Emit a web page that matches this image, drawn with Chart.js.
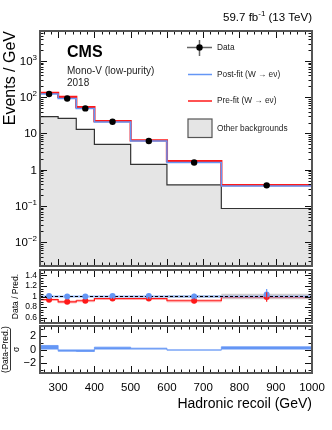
<!DOCTYPE html>
<html>
<head>
<meta charset="utf-8">
<script src="https://cdn.jsdelivr.net/npm/chart.js@4.4.1/dist/chart.umd.min.js"></script>
<style>
  html, body { margin: 0; padding: 0; background: #fff; }
  #wrap { position: relative; width: 332px; height: 430px; }
  canvas { position: absolute; left: 0; top: 0; }
</style>
</head>
<body>
<div id="wrap">
  <canvas id="mainChart" width="332" height="430"></canvas>
  <canvas id="ratioChart" width="332" height="430"></canvas>
  <canvas id="pullChart" width="332" height="430"></canvas>
</div>
<script>
const FONT = '"Liberation Sans", Arial, Helvetica, sans-serif';

// Binning (GeV)
const binEdges = [250, 300, 350, 400, 500, 600, 750, 1000];
const binCenters = [275, 325, 375, 450, 550, 675, 875];

// Main panel, Events / GeV
const dataValues = [123, 92, 49, 21, 6.2, 1.58, 0.37];
const postFit = [122, 92, 49, 20.8, 6.15, 1.58, 0.356];
const preFit = [131, 102, 53, 21.9, 6.45, 1.72, 0.374];
const otherBkg = [29, 26, 13, 5.0, 1.4, 0.38, 0.085];

// Ratio panel, Data / Pred.
const ratioPost = [1.01, 1.0, 1.0, 1.01, 1.01, 1.0, 1.04];
const ratioPostErr = [0.012, 0.012, 0.015, 0.016, 0.025, 0.05, 0.1];
const ratioPre = [0.94, 0.90, 0.92, 0.96, 0.96, 0.92, 0.99];
const ratioPreErr = [0.012, 0.012, 0.015, 0.016, 0.025, 0.045, 0.09];
const postUnc = [0.008, 0.008, 0.008, 0.01, 0.012, 0.03, 0.05];
const preUnc = [0.02, 0.03, 0.03, 0.02, 0.02, 0.035, 0.03];

// Pull panel, (Data-Pred.)/sigma
const pullValues = [0.6, -0.25, -0.3, 0.35, 0.2, -0.1, 0.4];

// Tick labels
const xTickValues = [300, 400, 500, 600, 700, 800, 900, 1000];
const logTickValues = [0.01, 0.1, 1, 10, 100, 1000];
const logTickBases = ["10", "10", "1", "10", "10", "10"];
const logTickExps = ["\u22122", "\u22121", "", "", "2", "3"];
const ratioTickValues = [0.6, 0.8, 1, 1.2, 1.4];
const ratioTickLabels = ["0.6", "0.8", "1", "1.2", "1.4"];
const pullTickValues = [-2, 0, 2];
const pullTickLabels = ["\u22122", "0", "2"];

const BLUE = "rgb(100, 150, 245)";
const RED = "rgb(255, 25, 25)";

// histogram outline: one point per lower edge plus the last upper edge
function steps(vals) {
  const pts = vals.map((v, i) => ({ x: binEdges[i], y: v }));
  pts.push({ x: binEdges[binEdges.length - 1], y: vals[vals.length - 1] });
  return pts;
}
function points(vals) {
  return vals.map((v, i) => ({ x: binCenters[i], y: v }));
}

function baseOptions(top, bottom, yScale) {
  return {
    responsive: false,
    animation: false,
    events: [],
    layout: { padding: { left: 40, right: 20, top: top, bottom: bottom } },
    scales: {
      x: { type: "linear", min: 250, max: 1000, display: false },
      y: Object.assign({ display: false }, yScale),
    },
    plugins: { legend: { display: false }, tooltip: { enabled: false } },
    elements: { line: { tension: 0 } },
  };
}

function line(ctx, x1, y1, x2, y2) {
  ctx.beginPath();
  ctx.moveTo(x1, y1);
  ctx.lineTo(x2, y2);
  ctx.stroke();
}

// vertical error bars for datasets carrying a yErr array
const errorBars = {
  id: "errorBars",
  afterDatasetsDraw(chart) {
    const ctx = chart.ctx;
    const y = chart.scales.y;
    chart.data.datasets.forEach((ds, i) => {
      if (!ds.yErr) return;
      const meta = chart.getDatasetMeta(i);
      ctx.save();
      ctx.strokeStyle = ds.pointBackgroundColor;
      ctx.lineWidth = 1.2;
      meta.data.forEach((pt, j) => {
        const v = ds.data[j].y;
        line(ctx, pt.x, y.getPixelForValue(v - ds.yErr[j]), pt.x, y.getPixelForValue(v + ds.yErr[j]));
      });
      ctx.restore();
    });
  },
};

// frame with inward ticks on all four sides
function makeFrame(yTicks) {
  return {
    id: "frame",
    afterDatasetsDraw(chart) {
      const { ctx, chartArea: a, scales } = chart;
      const x = scales.x, y = scales.y;
      ctx.save();
      ctx.strokeStyle = "#111";
      ctx.lineWidth = 1;
      for (let v = 260; v <= 1000; v += 20) {
        const px = Math.round(x.getPixelForValue(v)) + 0.5;
        const len = v % 100 === 0 ? 7 : 3.5;
        line(ctx, px, a.bottom, px, a.bottom - len);
        line(ctx, px, a.top, px, a.top + len);
      }
      yTicks(y).forEach(([v, len]) => {
        const py = Math.round(y.getPixelForValue(v)) + 0.5;
        line(ctx, a.left, py, a.left + len, py);
        line(ctx, a.right, py, a.right - len, py);
      });
      ctx.strokeStyle = "#555";
      ctx.lineWidth = 2;
      ctx.strokeRect(a.left, a.top, a.right - a.left, a.bottom - a.top);
      ctx.restore();
    },
  };
}

function rotatedText(ctx, text, x, y, font) {
  ctx.save();
  ctx.translate(x, y);
  ctx.rotate(-Math.PI / 2);
  ctx.font = font;
  ctx.fillText(text, 0, 0);
  ctx.restore();
}

// ---------- main panel ----------
const mainDecor = {
  id: "mainDecor",
  afterDraw(chart) {
    const { ctx, chartArea: a, scales } = chart;
    const y = scales.y;
    ctx.save();
    ctx.fillStyle = "#000";
    ctx.textBaseline = "alphabetic";

    // y tick labels with exponents
    logTickValues.forEach((v, i) => {
      const py = y.getPixelForValue(v);
      ctx.font = "11.5px " + FONT;
      const bw = ctx.measureText(logTickBases[i]).width;
      ctx.font = "8px " + FONT;
      const ew = logTickExps[i] ? ctx.measureText(logTickExps[i]).width : 0;
      const right = a.left - 3;
      ctx.textAlign = "left";
      ctx.font = "11.5px " + FONT;
      ctx.fillText(logTickBases[i], right - bw - ew, py + 4);
      if (logTickExps[i]) {
        ctx.font = "8px " + FONT;
        ctx.fillText(logTickExps[i], right - ew, py - 1);
      }
    });

    // y title
    ctx.textAlign = "right";
    rotatedText(ctx, "Events / GeV", 15, a.top, "16px " + FONT);

    // luminosity label
    ctx.font = "11.5px " + FONT;
    const t3 = " (13 TeV)";
    const w3 = ctx.measureText(t3).width;
    ctx.font = "8px " + FONT;
    const t2 = "-1";
    const w2 = ctx.measureText(t2).width;
    ctx.font = "11.5px " + FONT;
    const t1 = "59.7 fb";
    const w1 = ctx.measureText(t1).width;
    ctx.textAlign = "left";
    ctx.fillText(t1, a.right - w1 - w2 - w3, 21);
    ctx.fillText(t3, a.right - w3, 21);
    ctx.font = "8px " + FONT;
    ctx.fillText(t2, a.right - w2 - w3, 16);

    // CMS label
    ctx.font = "bold 16px " + FONT;
    ctx.fillText("CMS", 67, 56.5);
    ctx.font = "10px " + FONT;
    ctx.fillStyle = "#222";
    ctx.fillText("Mono-V (low-purity)", 67, 74);
    ctx.fillText("2018", 67, 85.5);

    // legend
    ctx.font = "8.3px " + FONT;
    ctx.textBaseline = "middle";
    ctx.fillStyle = "#222";
    ctx.strokeStyle = "#666";
    ctx.lineWidth = 1.5;
    line(ctx, 187, 47.5, 212, 47.5);
    line(ctx, 199.5, 40, 199.5, 56);
    ctx.fillStyle = "#000";
    ctx.beginPath();
    ctx.arc(199.5, 47.5, 3.2, 0, Math.PI * 2);
    ctx.fill();
    ctx.fillStyle = "#222";
    ctx.fillText("Data", 217, 48);

    ctx.strokeStyle = BLUE;
    ctx.lineWidth = 1.5;
    line(ctx, 188, 74.5, 212, 74.5);
    ctx.fillText("Post-fit (W \u2192 e\u03bd)", 217, 74.5);

    ctx.strokeStyle = RED;
    line(ctx, 188, 101, 212, 101);
    ctx.fillText("Pre-fit (W \u2192 e\u03bd)", 217, 101);

    ctx.fillStyle = "#e5e5e5";
    ctx.fillRect(188, 119, 24, 18.5);
    ctx.strokeStyle = "#555";
    ctx.lineWidth = 1.2;
    ctx.strokeRect(188, 119, 24, 18.5);
    ctx.fillStyle = "#222";
    ctx.fillText("Other backgrounds", 217, 128.5);
    ctx.restore();
  },
};

new Chart(document.getElementById("mainChart"), {
  type: "line",
  data: {
    datasets: [
      {
        label: "Data",
        data: points(dataValues),
        showLine: false,
        pointRadius: 3.2,
        pointBorderWidth: 0,
        pointBackgroundColor: "#000",
      },
      {
        label: "Post-fit",
        data: steps(postFit),
        stepped: "before",
        borderColor: BLUE,
        borderWidth: 1.5,
        pointRadius: 0,
        fill: false,
      },
      {
        label: "Pre-fit",
        data: steps(preFit),
        stepped: "before",
        borderColor: RED,
        borderWidth: 2.2,
        pointRadius: 0,
        fill: false,
      },
      {
        label: "Other backgrounds",
        data: steps(otherBkg),
        stepped: "before",
        borderColor: "#333",
        borderWidth: 1.2,
        backgroundColor: "#e5e5e5",
        pointRadius: 0,
        fill: "start",
      },
    ],
  },
  options: baseOptions(31, 164, { type: "logarithmic", min: 0.0022, max: 6700 }),
  plugins: [
    makeFrame(() => {
      const ticks = [];
      for (let d = -3; d <= 3; d++) {
        for (let k = 1; k <= 9; k++) {
          const v = k * Math.pow(10, d);
          if (v >= 0.0022 && v <= 6700) ticks.push([v, k === 1 ? 7 : 3.5]);
        }
      }
      return ticks;
    }),
    mainDecor,
  ],
});

// ---------- ratio panel ----------
const ratioDecor = {
  id: "ratioDecor",
  afterDraw(chart) {
    const { ctx, chartArea: a, scales } = chart;
    ctx.save();
    ctx.fillStyle = "#000";
    ctx.font = "8.5px " + FONT;
    ctx.textAlign = "right";
    ctx.textBaseline = "middle";
    ratioTickValues.forEach((v, i) => {
      ctx.fillText(ratioTickLabels[i], a.left - 3, scales.y.getPixelForValue(v));
    });
    ctx.textAlign = "center";
    ctx.textBaseline = "alphabetic";
    rotatedText(ctx, "Data / Pred.", 17.5, (a.top + a.bottom) / 2, "8.5px " + FONT);
    ctx.restore();
  },
};

new Chart(document.getElementById("ratioChart"), {
  type: "line",
  data: {
    datasets: [
      {
        label: "Data / post-fit",
        data: points(ratioPost),
        yErr: ratioPostErr,
        showLine: false,
        pointRadius: 3,
        pointBorderWidth: 0,
        pointBackgroundColor: BLUE,
      },
      {
        label: "Data / pre-fit",
        data: points(ratioPre),
        yErr: ratioPreErr,
        showLine: false,
        pointRadius: 3,
        pointBorderWidth: 0,
        pointBackgroundColor: RED,
      },
      {
        label: "unity",
        data: [{ x: 250, y: 1 }, { x: 1000, y: 1 }],
        borderColor: "#000",
        borderWidth: 1,
        borderDash: [3, 2],
        pointRadius: 0,
        fill: false,
      },
      {
        label: "post-fit line",
        data: [{ x: 250, y: 1 }, { x: 1000, y: 1 }],
        borderColor: "rgb(150, 185, 250)",
        borderWidth: 2,
        pointRadius: 0,
        fill: false,
      },
      {
        label: "pre-fit line",
        data: steps(ratioPre),
        stepped: "before",
        borderColor: RED,
        borderWidth: 1.2,
        pointRadius: 0,
        fill: false,
      },
      {
        label: "pre-fit band up",
        data: steps(ratioPre.map((v, i) => v + preUnc[i])),
        stepped: "before",
        borderWidth: 0,
        pointRadius: 0,
        backgroundColor: "rgba(255, 90, 90, 0.3)",
        fill: "+1",
      },
      {
        label: "pre-fit band down",
        data: steps(ratioPre.map((v, i) => v - preUnc[i])),
        stepped: "before",
        borderWidth: 0,
        pointRadius: 0,
        fill: false,
      },
      {
        label: "post-fit band up",
        data: steps(postUnc.map((u) => 1 + u)),
        stepped: "before",
        borderWidth: 0,
        pointRadius: 0,
        backgroundColor: "rgba(150, 150, 150, 0.45)",
        fill: "+1",
      },
      {
        label: "post-fit band down",
        data: steps(postUnc.map((u) => 1 - u)),
        stepped: "before",
        borderWidth: 0,
        pointRadius: 0,
        fill: false,
      },
    ],
  },
  options: baseOptions(270, 107, { type: "linear", min: 0.5, max: 1.5 }),
  plugins: [
    errorBars,
    makeFrame(() => {
      const ticks = [];
      for (let i = 11; i <= 29; i++) {
        const v = i * 0.05;
        ticks.push([v, i % 4 === 0 ? 7 : 3.5]);
      }
      return ticks;
    }),
    ratioDecor,
  ],
});

// ---------- pull panel ----------
const pullDecor = {
  id: "pullDecor",
  afterDraw(chart) {
    const { ctx, chartArea: a, scales } = chart;
    ctx.save();
    ctx.fillStyle = "#000";
    ctx.font = "11px " + FONT;
    ctx.textAlign = "right";
    ctx.textBaseline = "middle";
    pullTickValues.forEach((v, i) => {
      ctx.fillText(pullTickLabels[i], a.left - 4, scales.y.getPixelForValue(v));
    });

    // x tick labels
    ctx.font = "11.5px " + FONT;
    ctx.textAlign = "center";
    ctx.textBaseline = "alphabetic";
    xTickValues.forEach((v) => {
      ctx.fillText(String(v), scales.x.getPixelForValue(v), 391);
    });

    // x title
    ctx.font = "14px " + FONT;
    ctx.textAlign = "right";
    ctx.fillText("Hadronic recoil (GeV)", a.right, 408);

    // y title as a fraction
    const mid = (a.top + a.bottom) / 2;
    ctx.textAlign = "center";
    rotatedText(ctx, "(Data-Pred.)", 8, mid, "8.5px " + FONT);
    ctx.strokeStyle = "#000";
    ctx.lineWidth = 0.8;
    line(ctx, 10.5, mid - 21, 10.5, mid + 21);
    rotatedText(ctx, "\u03c3", 19, mid, "8.5px " + FONT);
    ctx.restore();
  },
};

new Chart(document.getElementById("pullChart"), {
  type: "line",
  data: {
    datasets: [
      {
        label: "Pull",
        data: steps(pullValues),
        stepped: "before",
        borderColor: BLUE,
        borderWidth: 0.8,
        backgroundColor: BLUE,
        pointRadius: 0,
        fill: { value: 0 },
      },
    ],
  },
  options: baseOptions(326, 57, { type: "linear", min: -3.5, max: 3.5 }),
  plugins: [
    makeFrame(() => [[-3, 3.5], [-2, 7], [-1, 3.5], [0, 7], [1, 3.5], [2, 7], [3, 3.5]]),
    pullDecor,
  ],
});
</script>
</body>
</html>
